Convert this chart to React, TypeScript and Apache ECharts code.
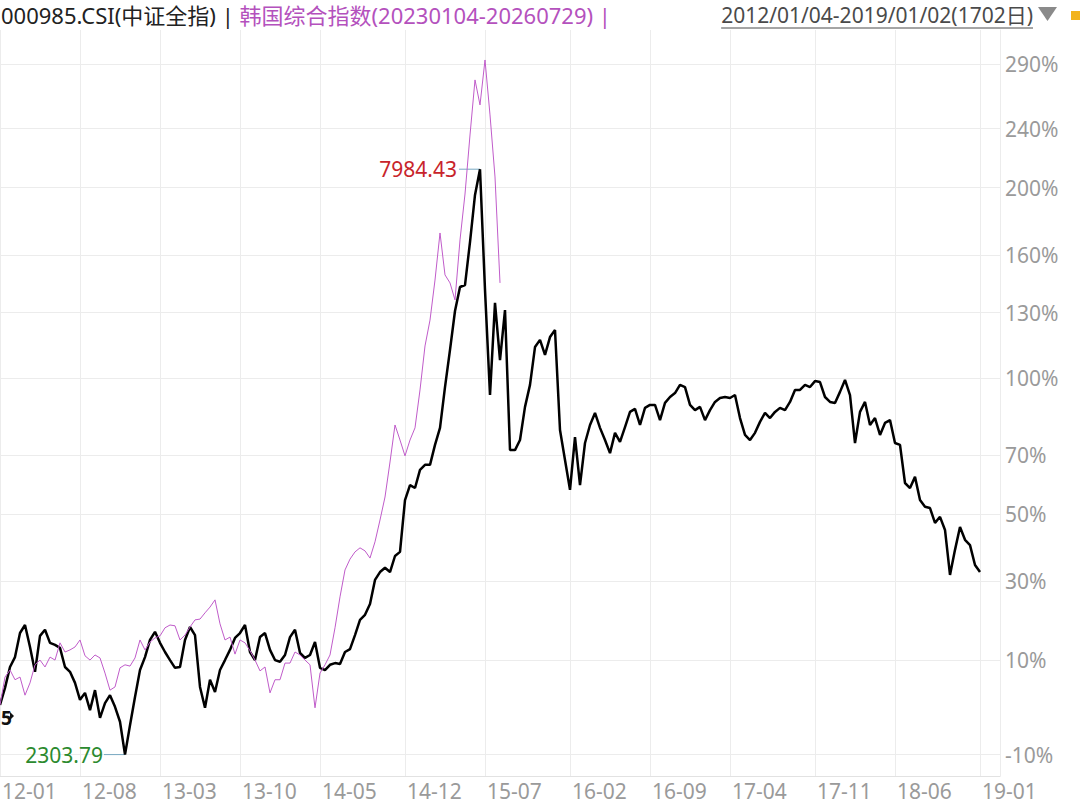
import React, { useEffect, useRef } from 'react';
import * as echarts from 'echarts';

const FONT = "'Noto Sans', 'Noto Sans CJK SC', sans-serif";

// X axis: sample slots (one slot ≈ a few trading days), ticks and their labels
const SLOT_COUNT = 201;
const X_TICK_INDEX = [0, 16, 32, 48, 64, 81, 97, 114, 130, 146, 163, 179, 196];
const X_TICK_LABELS = ['12-01', '12-08', '13-03', '13-10', '14-05', '14-12', '15-07', '16-02', '16-09', '17-04', '17-11', '18-06', '19-01'];

// Y axis: cumulative change ticks (%), log-scaled on (1 + change)
const Y_TICK_PCT = [-10, 10, 30, 50, 70, 100, 130, 160, 200, 240, 290];
const Y_MIN_PCT = -14;
const Y_MAX_PCT = 319.15;

// 000985.CSI cumulative change (%) from 2012/01/04
const CSI_PCT = [
  0, 3.7, 8.4, 10.7, 16.5, 18.5, 13.1, 7.3, 15.8, 17.3,
  14.1, 13.6, 12.9, 8.4, 7.3, 4.8, 1.1, 2.6, -1.1, 3.2,
  -2.7, 0.4, 2.1, -0.4, -3.5, -10.0, -4.2, 1.7, 7.7, 10.7,
  14.8, 16.8, 14.1, 11.9, 10.0, 8.2, 8.4, 14.8, 18.0, 16.0,
  3.9, -0.6, 5.5, 2.8, 7.7, 10.0, 12.4, 15.3, 16.5, 18.5,
  11.9, 10.0, 15.5, 16.5, 12.4, 10.0, 9.6, 11.2, 15.5, 17.3,
  11.7, 10.5, 11.2, 14.3, 8.2, 7.7, 8.9, 9.3, 9.1, 11.9,
  12.6, 16.0, 19.8, 21.1, 23.9, 30.4, 32.6, 33.8, 32.6, 37.2,
  38.4, 54.5, 59.5, 58.5, 64.7, 66.5, 66.5, 73.7, 80.1, 96.4,
  112.5, 130.8, 142.9, 143.9, 167.2, 195.3, 211.9, 141.4, 93.1, 134.8,
  108.0, 131.3, 71.8, 71.8, 75.5, 88.3, 97.3, 113.8, 117.1, 110.3,
  118.4, 121.7, 79.3, 68.2, 57.9, 76.6, 59.5, 74.4, 81.2, 85.9,
  80.1, 75.5, 70.7, 78.2, 74.8, 80.4, 86.3, 87.5, 81.2, 87.9,
  89.1, 89.1, 83.1, 89.9, 92.3, 93.9, 97.3, 96.4, 89.1, 87.0,
  88.3, 83.1, 87.0, 90.3, 91.9, 92.3, 91.9, 93.1, 83.9, 77.4,
  75.5, 78.2, 82.4, 85.9, 83.9, 86.3, 87.9, 87.0, 90.3, 95.2,
  95.2, 97.3, 96.4, 98.9, 98.5, 92.3, 90.3, 89.9, 94.4, 99.4,
  93.1, 74.4, 86.3, 90.3, 81.2, 83.9, 77.4, 82.0, 83.1, 74.4,
  73.7, 60.2, 58.5, 62.3, 54.5, 52.3, 51.9, 47.2, 49.1, 45.0,
  31.8, 39.0, 45.9, 42.0, 40.4, 34.6, 32.6,
];

// 韩国综合指数 (20230104-20260729) cumulative change (%), aligned to the same start
const KOSPI_PCT = [
  0, 6.1, 7.7, 5.5, 6.1, 2.1, 4.8, 8.9, 10.0, 8.4,
  10.7, 10.0, 14.1, 11.9, 12.4, 13.1, 14.8, 11.0, 10.0, 11.2,
  10.5, 7.0, 3.2, 3.9, 8.2, 8.9, 8.6, 10.5, 14.8, 12.4,
  14.3, 15.3, 15.8, 17.8, 18.5, 18.3, 14.8, 16.0, 18.0, 19.8,
  20.0, 21.6, 23.1, 25.0, 18.8, 14.8, 15.5, 11.4, 14.8, 14.1,
  12.2, 10.0, 7.5, 8.4, 2.6, 5.5, 5.5, 9.3, 9.3, 11.9,
  11.2, 10.0, 8.9, -0.6, 7.0, 8.9, 11.2, 17.8, 25.8, 33.2,
  36.3, 38.4, 39.6, 38.7, 36.6, 41.4, 48.1, 55.5, 67.5, 81.2,
  75.5, 69.7, 75.5, 80.1, 95.2, 114.3, 126.4, 146.5, 172.4, 149.2,
  145.0, 136.3, 168.4, 195.9, 235.4, 277.0, 257.5, 293.3, 250.0, 206.8,
  145.0,
];

const CSI_HIGH_TEXT = '7984.43';
const CSI_LOW_TEXT = '2303.79';
const HEADER_LEFT_A = '000985.CSI(中证全指) | ';
const HEADER_LEFT_B = '韩国综合指数(20230104-20260729) |';
const HEADER_RIGHT = '2012/01/04-2019/01/02(1702日)';

const toRatio = (p: number) => 1 + p / 100;

export default function App() {
  const ref = useRef<HTMLDivElement>(null);

  useEffect(() => {
    document.body.style.margin = '0';
    if (!ref.current) return;
    const chart = echarts.init(ref.current, undefined, { renderer: 'svg' });

    const categories = Array.from({ length: SLOT_COUNT }, (_, i) => String(i));
    const isTick = (i: number) => X_TICK_INDEX.indexOf(i) >= 0;
    const tickLabel = (i: number) => {
      const k = X_TICK_INDEX.indexOf(i);
      return k >= 0 ? X_TICK_LABELS[k] : '';
    };
    const yTicks = Y_TICK_PCT.map(toRatio);

    chart.setOption({
      animation: false,
      textStyle: { fontFamily: FONT },
      title: {
        text: `{a|${HEADER_LEFT_A}}{b|${HEADER_LEFT_B}}`,
        left: 1,
        top: 3,
        padding: 0,
        textStyle: {
          fontSize: 22,
          fontWeight: 'normal',
          fontFamily: FONT,
          lineHeight: 24,
          rich: {
            a: { color: '#222222', fontSize: 22, lineHeight: 24, fontFamily: FONT },
            b: { color: '#b451bd', fontSize: 22, lineHeight: 24, fontFamily: FONT },
          },
        },
      },
      grid: { left: 0, right: 80, top: 30, bottom: 31, outerBoundsMode: 'none', containLabel: false },
      xAxis: {
        type: 'category',
        data: categories,
        boundaryGap: false,
        axisLine: { show: true, lineStyle: { color: '#e2e2e2', width: 1 } },
        axisTick: { show: false, interval: (i: number) => isTick(i) },
        axisLabel: {
          interval: (i: number) => isTick(i),
          formatter: (_v: string, i: number) => tickLabel(i),
          align: 'left',
          padding: [0, 0, 0, 2],
          color: '#9a9a9a',
          fontSize: 21,
          fontFamily: FONT,
          margin: 4,
        },
        splitLine: { show: true, interval: (i: number) => isTick(i), lineStyle: { color: '#ececec', width: 1 } },
      },
      yAxis: {
        type: 'log',
        logBase: 10,
        position: 'right',
        min: toRatio(Y_MIN_PCT),
        max: toRatio(Y_MAX_PCT),
        axisLine: { show: true, lineStyle: { color: '#ececec', width: 1 } },
        axisTick: { show: false, customValues: yTicks },
        axisLabel: {
          customValues: yTicks,
          formatter: (v: number) => Math.round((v - 1) * 100) + '%',
          color: '#9a9a9a',
          fontSize: 21,
          fontFamily: FONT,
          margin: 5,
        },
        splitLine: { show: true, lineStyle: { color: '#ececec', width: 1 } },
      },
      series: [
        {
          name: '000985.CSI',
          type: 'line',
          data: CSI_PCT.map(toRatio),
          symbol: 'none',
          lineStyle: { color: '#000000', width: 2.5 },
          z: 2,
        },
        {
          name: '韩国综合指数',
          type: 'line',
          data: KOSPI_PCT.map(toRatio),
          symbol: 'none',
          lineStyle: { color: '#c05cca', width: 1 },
          z: 3,
        },
      ],
    });

    // extreme labels positioned through the chart's own scales
    const maxV = Math.max(...CSI_PCT);
    const minV = Math.min(...CSI_PCT);
    const iMax = CSI_PCT.indexOf(maxV);
    const iMin = CSI_PCT.indexOf(minV);
    const pMax = chart.convertToPixel({ seriesIndex: 0 }, [iMax, toRatio(maxV)]) as number[];
    const pMin = chart.convertToPixel({ seriesIndex: 0 }, [iMin, toRatio(minV)]) as number[];

    const canvas = document.createElement('canvas');
    const ctx = canvas.getContext('2d');
    let rightW = 315;
    if (ctx) {
      ctx.font = `21px ${FONT}`;
      rightW = ctx.measureText(HEADER_RIGHT).width;
    }
    const rightEnd = 1033;

    chart.setOption({
      graphic: [
        {
          type: 'line',
          shape: { x1: pMax[0] - 21, y1: pMax[1], x2: pMax[0], y2: pMax[1] },
          style: { stroke: '#78a9c2', lineWidth: 1 },
          silent: true,
        },
        {
          type: 'text',
          x: pMax[0] - 23,
          y: pMax[1],
          style: { text: CSI_HIGH_TEXT, fill: '#c8242b', font: `21px ${FONT}`, textAlign: 'right', textVerticalAlign: 'middle' },
          silent: true,
        },
        {
          type: 'line',
          shape: { x1: pMin[0] - 21, y1: pMin[1], x2: pMin[0], y2: pMin[1] },
          style: { stroke: '#78a9c2', lineWidth: 1 },
          silent: true,
        },
        {
          type: 'text',
          x: pMin[0] - 22,
          y: pMin[1],
          style: { text: CSI_LOW_TEXT, fill: '#2b8a2e', font: `21px ${FONT}`, textAlign: 'right', textVerticalAlign: 'middle' },
          silent: true,
        },
        {
          type: 'text',
          x: 1,
          y: 718,
          style: { text: '5', fill: '#111111', font: `bold 19px ${FONT}`, textAlign: 'left', textVerticalAlign: 'middle' },
          silent: true,
        },
        {
          type: 'polygon',
          shape: { points: [[10, 712], [14, 716], [10, 720]] },
          style: { fill: '#111111' },
          silent: true,
        },
        {
          type: 'text',
          x: rightEnd,
          y: 15,
          style: { text: HEADER_RIGHT, fill: '#4a4a4a', font: `21px ${FONT}`, textAlign: 'right', textVerticalAlign: 'middle' },
          silent: true,
        },
        {
          type: 'line',
          shape: { x1: rightEnd - rightW, y1: 28, x2: rightEnd, y2: 28 },
          style: { stroke: '#4a4a4a', lineWidth: 1 },
          silent: true,
        },
        {
          type: 'polygon',
          shape: { points: [[1038, 7], [1057, 7], [1047.5, 21]] },
          style: { fill: '#8a8a8a' },
          silent: true,
        },
        {
          type: 'rect',
          shape: { x: 1071, y: 11, width: 12, height: 9 },
          style: { fill: '#f2b31c' },
          silent: true,
        },
      ],
    });

    return () => chart.dispose();
  }, []);

  return <div ref={ref} style={{ width: 1080, height: 807 }} />;
}
